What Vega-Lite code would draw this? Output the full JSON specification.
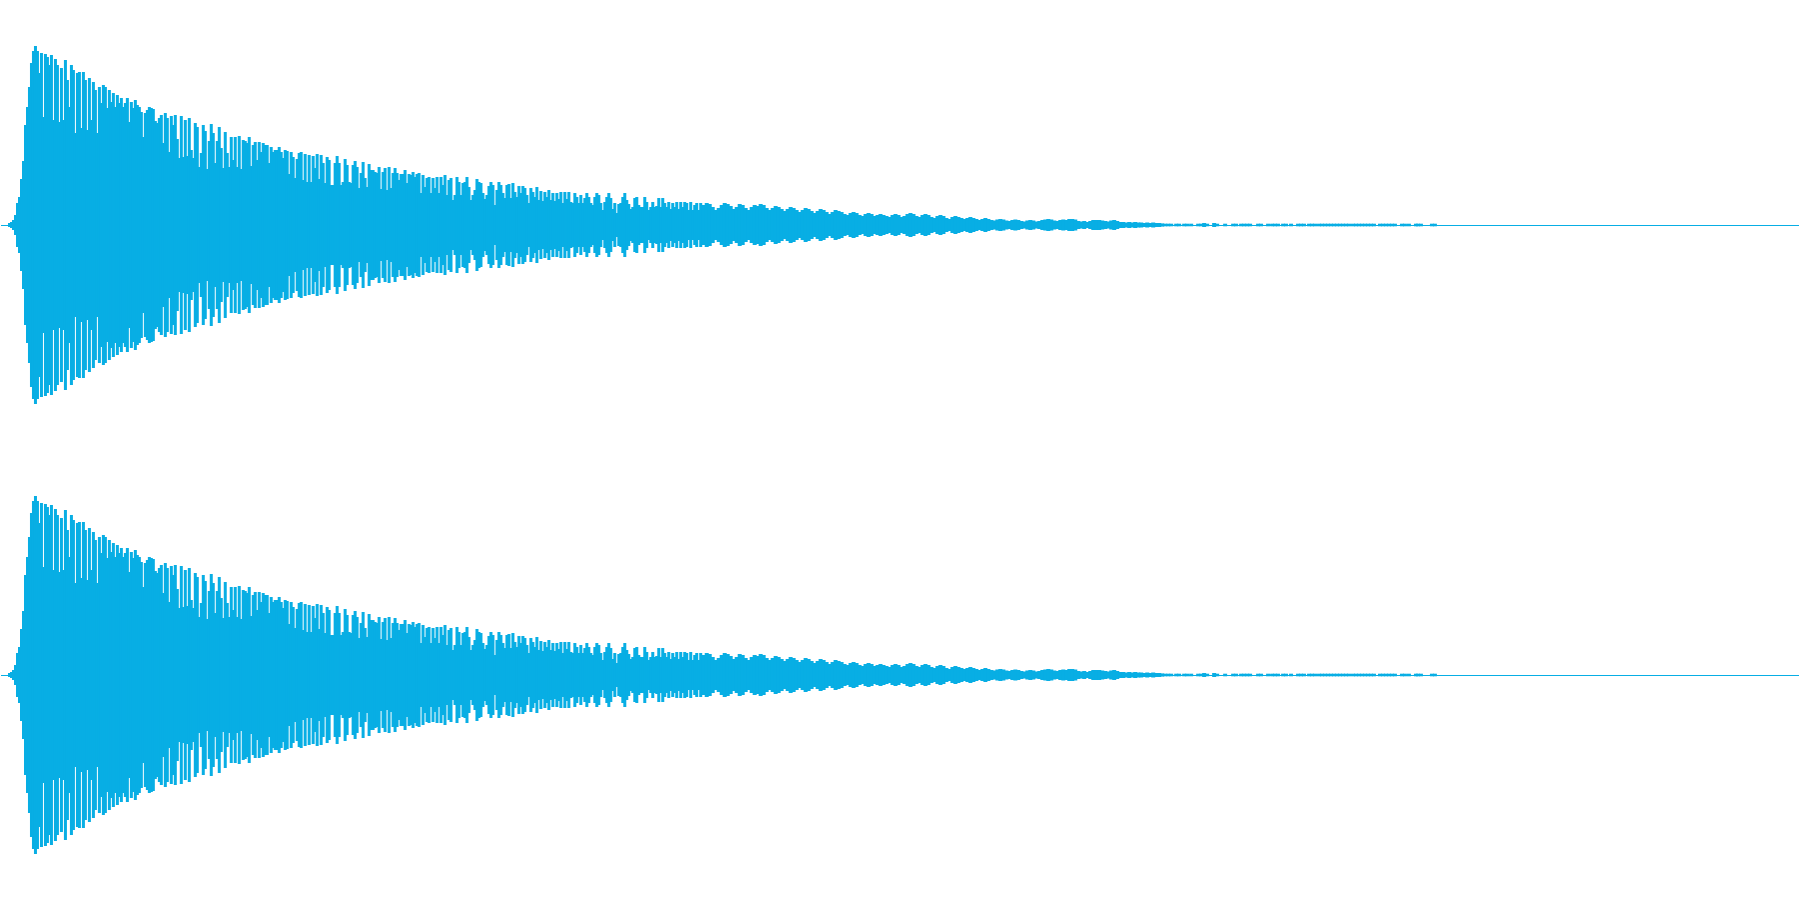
{
  "$schema": "https://vega.github.io/schema/vega-lite/v6.json",
  "width": 1800,
  "height": 900,
  "autosize": {"type": "fit", "contains": "padding"},
  "padding": 0,
  "background": "white",
  "config": {"view": {"stroke": null}},
  "datasets": {
    "wave": [
      {"t":8,"a":2},{"t":10,"a":3},{"t":12,"a":5},{"t":14,"a":10},{"t":16,"a":22},{"t":18,"a":28},{"t":20,"a":46},{"t":22,"a":64},{"t":24,"a":100},{"t":26,"a":118},{"t":28,"a":138},{"t":30,"a":162},{"t":32,"a":174},
      {"t":34,"a":179},{"t":36,"a":174},{"t":38,"a":152},{"t":40,"a":172},{"t":42,"a":108},{"t":44,"a":171},{"t":46,"a":168},{"t":48,"a":160},{"t":50,"a":170},{"t":52,"a":105},{"t":54,"a":166},{"t":56,"a":160},{"t":58,"a":103},{"t":60,"a":157},{"t":62,"a":105},{"t":64,"a":165},{"t":66,"a":145},{"t":68,"a":118},{"t":70,"a":160},{"t":72,"a":155},{"t":74,"a":92},{"t":76,"a":152},{"t":78,"a":153},{"t":80,"a":97},{"t":82,"a":153},{"t":84,"a":145},{"t":86,"a":95},{"t":88,"a":147},{"t":90,"a":105},{"t":92,"a":143},{"t":94,"a":135},{"t":96,"a":92},{"t":98,"a":138},{"t":100,"a":122},
      {"t":102,"a":140},{"t":104,"a":138},{"t":106,"a":117},{"t":108,"a":135},{"t":110,"a":123},{"t":112,"a":132},{"t":114,"a":118},{"t":116,"a":130},{"t":118,"a":122},{"t":120,"a":127},{"t":122,"a":118},{"t":124,"a":122},{"t":126,"a":127},{"t":128,"a":103},{"t":130,"a":123},{"t":132,"a":117},{"t":134,"a":125},{"t":136,"a":120},{"t":138,"a":118},{"t":140,"a":113},{"t":142,"a":88},{"t":144,"a":112},{"t":146,"a":115},{"t":148,"a":118},{"t":150,"a":117},
      {"t":152,"a":116},{"t":154,"a":104},{"t":156,"a":102},{"t":158,"a":107},{"t":160,"a":110},{"t":162,"a":82},{"t":164,"a":112},{"t":166,"a":107},{"t":168,"a":73},{"t":170,"a":109},{"t":172,"a":100},{"t":174,"a":110},{"t":176,"a":86},{"t":178,"a":67},{"t":180,"a":109},{"t":182,"a":68},{"t":184,"a":105},{"t":186,"a":69},{"t":188,"a":107},{"t":190,"a":75},{"t":192,"a":67},{"t":194,"a":102},{"t":196,"a":98},{"t":198,"a":58},{"t":200,"a":72},
      {"t":202,"a":100},{"t":204,"a":94},{"t":206,"a":56},{"t":208,"a":84},{"t":210,"a":101},{"t":212,"a":92},{"t":214,"a":62},{"t":216,"a":84},{"t":218,"a":98},{"t":220,"a":77},{"t":222,"a":57},{"t":224,"a":93},{"t":226,"a":72},{"t":228,"a":58},{"t":230,"a":88},{"t":232,"a":65},{"t":234,"a":88},{"t":236,"a":58},{"t":238,"a":89},{"t":240,"a":56},{"t":242,"a":85},{"t":244,"a":84},{"t":246,"a":82},{"t":248,"a":88},{"t":250,"a":59},
      {"t":252,"a":80},{"t":254,"a":83},{"t":256,"a":65},{"t":258,"a":83},{"t":260,"a":73},{"t":262,"a":82},{"t":264,"a":80},{"t":266,"a":80},{"t":268,"a":62},{"t":270,"a":78},{"t":272,"a":73},{"t":274,"a":75},{"t":276,"a":75},{"t":278,"a":78},{"t":280,"a":73},{"t":282,"a":67},{"t":284,"a":75},{"t":286,"a":74},{"t":288,"a":51},{"t":290,"a":73},{"t":292,"a":68},{"t":294,"a":47},{"t":296,"a":66},{"t":298,"a":72},{"t":300,"a":73},
      {"t":302,"a":45},{"t":304,"a":71},{"t":306,"a":43},{"t":308,"a":70},{"t":310,"a":43},{"t":312,"a":69},{"t":314,"a":57},{"t":316,"a":71},{"t":318,"a":46},{"t":320,"a":70},{"t":322,"a":62},{"t":324,"a":42},{"t":326,"a":68},{"t":328,"a":65},{"t":330,"a":40},{"t":332,"a":40},{"t":334,"a":62},{"t":336,"a":69},{"t":338,"a":62},{"t":340,"a":40},{"t":342,"a":43},{"t":344,"a":66},{"t":346,"a":60},{"t":348,"a":43},{"t":350,"a":42},
      {"t":352,"a":60},{"t":354,"a":64},{"t":356,"a":58},{"t":358,"a":37},{"t":360,"a":52},{"t":362,"a":63},{"t":364,"a":47},{"t":366,"a":38},{"t":368,"a":61},{"t":370,"a":55},{"t":372,"a":55},{"t":374,"a":53},{"t":376,"a":52},{"t":378,"a":58},{"t":380,"a":36},{"t":382,"a":53},{"t":384,"a":57},{"t":386,"a":35},{"t":388,"a":58},{"t":390,"a":37},{"t":392,"a":52},{"t":394,"a":57},{"t":396,"a":52},{"t":398,"a":45},{"t":400,"a":51},
      {"t":402,"a":51},{"t":404,"a":55},{"t":406,"a":42},{"t":408,"a":51},{"t":410,"a":50},{"t":412,"a":53},{"t":414,"a":48},{"t":416,"a":51},{"t":418,"a":52},{"t":420,"a":32},{"t":422,"a":50},{"t":424,"a":38},{"t":426,"a":47},{"t":428,"a":48},{"t":430,"a":32},{"t":432,"a":47},{"t":434,"a":37},{"t":436,"a":48},{"t":438,"a":32},{"t":440,"a":48},{"t":442,"a":40},{"t":444,"a":50},{"t":446,"a":30},{"t":448,"a":45},{"t":450,"a":47},
      {"t":452,"a":25},{"t":454,"a":30},{"t":456,"a":48},{"t":458,"a":43},{"t":460,"a":30},{"t":462,"a":42},{"t":464,"a":43},{"t":466,"a":48},{"t":468,"a":38},{"t":470,"a":25},{"t":472,"a":30},{"t":474,"a":35},{"t":476,"a":46},{"t":478,"a":43},{"t":480,"a":42},{"t":482,"a":32},{"t":484,"a":26},{"t":486,"a":30},{"t":488,"a":39},{"t":490,"a":43},{"t":492,"a":40},{"t":494,"a":20},{"t":496,"a":35},{"t":498,"a":43},{"t":500,"a":40},
      {"t":502,"a":32},{"t":504,"a":27},{"t":506,"a":40},{"t":508,"a":41},{"t":510,"a":27},{"t":512,"a":42},{"t":514,"a":33},{"t":516,"a":28},{"t":518,"a":39},{"t":520,"a":32},{"t":522,"a":39},{"t":524,"a":37},{"t":526,"a":30},{"t":528,"a":22},{"t":530,"a":37},{"t":532,"a":33},{"t":534,"a":28},{"t":536,"a":38},{"t":538,"a":25},{"t":540,"a":34},{"t":542,"a":24},{"t":544,"a":33},{"t":546,"a":28},{"t":548,"a":35},{"t":550,"a":25},
      {"t":552,"a":32},{"t":554,"a":24},{"t":556,"a":32},{"t":558,"a":26},{"t":560,"a":33},{"t":562,"a":22},{"t":564,"a":33},{"t":566,"a":26},{"t":568,"a":33},{"t":570,"a":23},{"t":572,"a":22},{"t":574,"a":32},{"t":576,"a":28},{"t":578,"a":22},{"t":580,"a":30},{"t":582,"a":22},{"t":584,"a":27},{"t":586,"a":32},{"t":588,"a":28},{"t":590,"a":22},{"t":592,"a":20},{"t":594,"a":28},{"t":596,"a":32},{"t":598,"a":30},{"t":600,"a":22},
      {"t":602,"a":15},{"t":604,"a":23},{"t":606,"a":28},{"t":608,"a":32},{"t":610,"a":27},{"t":612,"a":16},{"t":614,"a":22},{"t":616,"a":12},{"t":618,"a":21},{"t":620,"a":22},{"t":622,"a":28},{"t":624,"a":32},{"t":626,"a":25},{"t":628,"a":21},{"t":630,"a":16},{"t":632,"a":18},{"t":634,"a":27},{"t":636,"a":28},{"t":638,"a":20},{"t":640,"a":18},{"t":642,"a":18},{"t":644,"a":28},{"t":646,"a":23},{"t":648,"a":15},{"t":650,"a":18},
      {"t":652,"a":23},{"t":654,"a":18},{"t":656,"a":19},{"t":658,"a":27},{"t":660,"a":18},{"t":662,"a":27},{"t":664,"a":22},{"t":666,"a":18},{"t":668,"a":23},{"t":670,"a":16},{"t":672,"a":22},{"t":674,"a":18},{"t":676,"a":23},{"t":678,"a":16},{"t":680,"a":23},{"t":682,"a":18},{"t":684,"a":23},{"t":686,"a":22},{"t":688,"a":15},{"t":690,"a":23},{"t":692,"a":15},{"t":694,"a":20},{"t":696,"a":22},{"t":698,"a":15},{"t":700,"a":22},
      {"t":703,"a":20},{"t":706,"a":22},{"t":709,"a":21},{"t":712,"a":18},{"t":715,"a":15},{"t":718,"a":17},{"t":721,"a":20},{"t":724,"a":22},{"t":727,"a":21},{"t":730,"a":19},{"t":733,"a":16},{"t":736,"a":18},{"t":739,"a":21},{"t":742,"a":20},{"t":745,"a":17},{"t":748,"a":15},{"t":751,"a":18},{"t":754,"a":20},{"t":757,"a":19},{"t":760,"a":21},{"t":763,"a":20},{"t":766,"a":17},{"t":769,"a":15},{"t":772,"a":17},{"t":775,"a":19},
      {"t":778,"a":18},{"t":781,"a":16},{"t":784,"a":14},{"t":787,"a":16},{"t":790,"a":18},{"t":793,"a":17},{"t":796,"a":15},{"t":799,"a":13},{"t":802,"a":15},{"t":805,"a":17},{"t":808,"a":16},{"t":811,"a":14},{"t":814,"a":12},{"t":817,"a":14},{"t":820,"a":16},{"t":823,"a":15},{"t":826,"a":13},{"t":829,"a":11},{"t":832,"a":13},{"t":835,"a":15},{"t":838,"a":14},{"t":841,"a":13},{"t":844,"a":11},{"t":847,"a":10},{"t":850,"a":12},
      {"t":853,"a":13},{"t":856,"a":12},{"t":859,"a":10},{"t":862,"a":9},{"t":865,"a":11},{"t":868,"a":12},{"t":871,"a":11},{"t":874,"a":9},{"t":877,"a":10},{"t":880,"a":11},{"t":883,"a":10},{"t":886,"a":9},{"t":889,"a":8},{"t":892,"a":10},{"t":895,"a":11},{"t":898,"a":10},{"t":901,"a":8},{"t":904,"a":9},{"t":907,"a":11},{"t":910,"a":12},{"t":913,"a":11},{"t":916,"a":9},{"t":919,"a":8},{"t":922,"a":10},{"t":925,"a":11},
      {"t":928,"a":10},{"t":931,"a":8},{"t":934,"a":7},{"t":937,"a":9},{"t":940,"a":10},{"t":943,"a":9},{"t":946,"a":7},{"t":949,"a":6},{"t":952,"a":8},{"t":955,"a":9},{"t":958,"a":8},{"t":961,"a":7},{"t":964,"a":6},{"t":967,"a":7},{"t":970,"a":8},{"t":973,"a":7},{"t":976,"a":6},{"t":979,"a":5},{"t":982,"a":6},{"t":985,"a":7},{"t":988,"a":6},{"t":991,"a":5},{"t":994,"a":4.5},{"t":997,"a":5.5},{"t":1000,"a":6},
      {"t":1003,"a":5.5},{"t":1006,"a":4.5},{"t":1009,"a":4},{"t":1012,"a":5},{"t":1015,"a":5.5},{"t":1018,"a":5},{"t":1021,"a":4},{"t":1024,"a":3.5},{"t":1027,"a":4.5},{"t":1030,"a":5},{"t":1033,"a":4.5},{"t":1036,"a":3.5},{"t":1039,"a":4},{"t":1042,"a":5},{"t":1045,"a":5.5},{"t":1048,"a":6},{"t":1051,"a":5.5},{"t":1054,"a":4.5},{"t":1057,"a":4},{"t":1060,"a":5},{"t":1063,"a":5.5},{"t":1066,"a":5},{"t":1069,"a":6},{"t":1072,"a":6},{"t":1075,"a":5.5},
      {"t":1078,"a":4},{"t":1081,"a":3.5},{"t":1084,"a":4},{"t":1087,"a":3},{"t":1090,"a":4},{"t":1093,"a":5},{"t":1096,"a":5},{"t":1099,"a":5},{"t":1102,"a":4.5},{"t":1105,"a":4},{"t":1108,"a":3.5},{"t":1111,"a":4.5},{"t":1114,"a":5},{"t":1117,"a":4},{"t":1120,"a":3},{"t":1123,"a":3},{"t":1126,"a":2.5},{"t":1129,"a":3},{"t":1132,"a":2.5},{"t":1135,"a":3},{"t":1138,"a":2.5},{"t":1141,"a":2.5},{"t":1144,"a":2},{"t":1147,"a":2.5},{"t":1150,"a":2},
      {"t":1153,"a":2.5},{"t":1156,"a":2},{"t":1159,"a":2},{"t":1162,"a":1.6},
      {"t":1165,"a":1.3},{"t":1168,"a":1.3},{"t":1171,"a":1.3},{"t":1176,"a":1.3},{"t":1179,"a":1.3},{"t":1184,"a":1.3},{"t":1187,"a":1.3},{"t":1191,"a":1.3},{"t":1198,"a":1.3},{"t":1201,"a":1.3},{"t":1204,"a":2},{"t":1207,"a":1.3},{"t":1214,"a":2},{"t":1217,"a":1.3},{"t":1225,"a":1.3},{"t":1233,"a":1.3},{"t":1236,"a":1.3},{"t":1241,"a":1.3},{"t":1244,"a":1.3},{"t":1247,"a":1.3},{"t":1250,"a":1.3},{"t":1258,"a":1.3},{"t":1261,"a":1.3},{"t":1268,"a":1.3},
      {"t":1272,"a":1.3},{"t":1275,"a":1.3},{"t":1278,"a":1.3},{"t":1283,"a":1.3},{"t":1286,"a":1.3},{"t":1291,"a":1.3},{"t":1298,"a":1.3},{"t":1301,"a":1.3},{"t":1304,"a":1.3},{"t":1309,"a":1.3},{"t":1312,"a":1.3},{"t":1315,"a":1.3},{"t":1319,"a":1.3},{"t":1322,"a":1.3},{"t":1325,"a":1.3},{"t":1328,"a":1.3},{"t":1331,"a":1.3},{"t":1334,"a":1.3},{"t":1337,"a":1.3},{"t":1340,"a":1.3},{"t":1343,"a":1.3},{"t":1346,"a":1.3},{"t":1349,"a":1.3},
      {"t":1353,"a":1.3},{"t":1356,"a":1.3},{"t":1359,"a":1.3},{"t":1362,"a":1.3},{"t":1365,"a":1.3},{"t":1368,"a":1.3},{"t":1371,"a":1.3},{"t":1374,"a":1.3},{"t":1380,"a":1.3},{"t":1383,"a":1.3},{"t":1386,"a":1.3},{"t":1389,"a":1.3},{"t":1392,"a":1.3},{"t":1395,"a":1.3},{"t":1402,"a":1.3},{"t":1405,"a":1.3},{"t":1409,"a":1.3},{"t":1416,"a":1.3},{"t":1418,"a":1.3},{"t":1421,"a":1.3},{"t":1432,"a":1.3},{"t":1435,"a":1.3}
    ],
    "zero": [{"amp": -0.5}]
  },
  "layer": [
    {
      "data": {"name": "zero"},
      "mark": {"type": "rule", "color": "#08AEE4", "strokeWidth": 1},
      "encoding": {
        "y": {"field": "amp", "type": "quantitative", "scale": {"domain": [-675, 225], "nice": false, "zero": false}, "axis": null}
      }
    },
    {
      "data": {"name": "zero"},
      "mark": {"type": "rule", "color": "#08AEE4", "strokeWidth": 1},
      "encoding": {
        "y": {"field": "amp", "type": "quantitative", "scale": {"domain": [-225, 675], "nice": false, "zero": false}, "axis": null}
      }
    },
    {
      "data": {"name": "wave"},
      "mark": {"type": "rule", "color": "#08AEE4"},
      "encoding": {
        "x": {"field": "t", "type": "quantitative", "scale": {"domain": [-0.5, 1799.5], "nice": false, "zero": false}, "axis": null},
        "y": {"field": "a", "type": "quantitative", "scale": {"domain": [-675, 225], "nice": false, "zero": false}, "axis": null},
        "y2": {"datum": 0},
        "strokeWidth": {"condition": {"test": "datum.t > 700", "value": 4}, "value": 3}
      }
    },
    {
      "data": {"name": "wave"},
      "mark": {"type": "rule", "color": "#08AEE4"},
      "encoding": {
        "x": {"field": "t", "type": "quantitative", "scale": {"domain": [-0.5, 1799.5], "nice": false, "zero": false}, "axis": null},
        "y": {"field": "a", "type": "quantitative", "scale": {"domain": [-225, 675], "nice": false, "zero": false, "reverse": true}, "axis": null},
        "y2": {"datum": 0},
        "strokeWidth": {"condition": {"test": "datum.t > 700", "value": 4}, "value": 3}
      }
    },
    {
      "data": {"name": "wave"},
      "mark": {"type": "rule", "color": "#08AEE4"},
      "encoding": {
        "x": {"field": "t", "type": "quantitative", "scale": {"domain": [-0.5, 1799.5], "nice": false, "zero": false}, "axis": null},
        "y": {"field": "a", "type": "quantitative", "scale": {"domain": [-225, 675], "nice": false, "zero": false}, "axis": null},
        "y2": {"datum": 0},
        "strokeWidth": {"condition": {"test": "datum.t > 700", "value": 4}, "value": 3}
      }
    },
    {
      "data": {"name": "wave"},
      "mark": {"type": "rule", "color": "#08AEE4"},
      "encoding": {
        "x": {"field": "t", "type": "quantitative", "scale": {"domain": [-0.5, 1799.5], "nice": false, "zero": false}, "axis": null},
        "y": {"field": "a", "type": "quantitative", "scale": {"domain": [-675, 225], "nice": false, "zero": false, "reverse": true}, "axis": null},
        "y2": {"datum": 0},
        "strokeWidth": {"condition": {"test": "datum.t > 700", "value": 4}, "value": 3}
      }
    }
  ],
  "resolve": {"scale": {"y": "independent"}}
}
